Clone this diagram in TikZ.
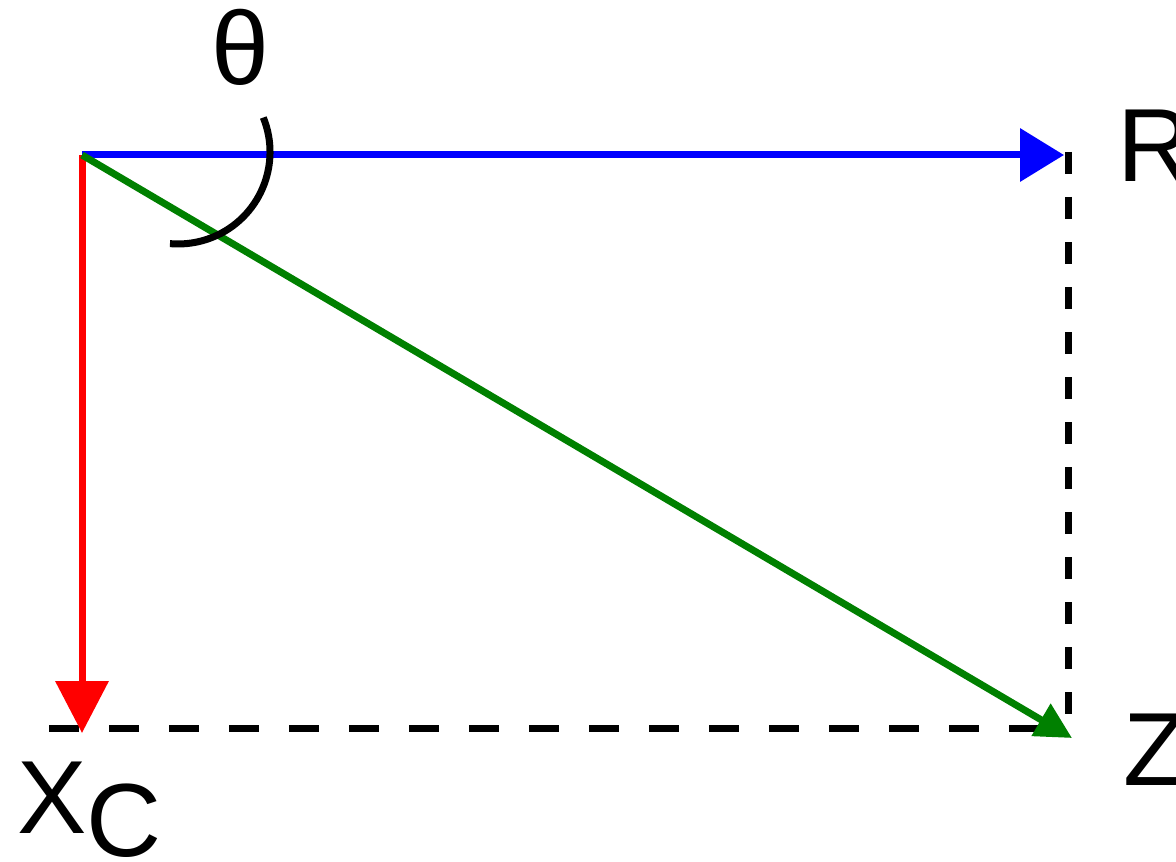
\documentclass[tikz,border=0pt]{standalone}
\usepackage{fontspec}
\setmainfont{Liberation Sans}
\usetikzlibrary{arrows.meta}
\definecolor{axgreen}{RGB}{0,128,0}

\begin{document}
\begin{tikzpicture}[x=0.5pt, y=-0.5pt, every node/.style={font=\fontsize{52}{60}\selectfont, inner sep=0pt}, axis/.style={line width=3.5pt}, guide/.style={line width=3.5pt, dash pattern=on 15pt off 15pt}]
\useasboundingbox (0,0) rectangle (1176,861);
\coordinate (o) at (82,155); \coordinate (rtip) at (1064,155); \coordinate (xtip) at (82,733); \coordinate (ztip) at (1072,738);
\coordinate (ctop) at (1068,152); \coordinate (cbot) at (1068,728); \coordinate (cleft) at (49,728);
\node[anchor=base west] (r) at (1117,182) {R};
\node[anchor=base west] (z) at (1123,785) {Z};
\node[anchor=base west] (xc) at (17,856) {\raisebox{11.5pt}{X}C};
\node (theta) at (240,47) {θ};
% guides
\draw[guide, dash pattern=on 11pt off 11.5pt] (ctop) -- (cbot); \draw[guide] (cleft) -- (cbot);
% axes
\draw[axis, red, -{Triangle[length=26pt,width=26pt]}] (o) -- (xtip);
\draw[axis, blue, -{Triangle[length=22pt,width=26pt]}] (o) -- (rtip);
\draw[axis, axgreen, -{Triangle[length=18pt,width=18pt]}] (o) -- (ztip);
\draw[line width=3.5pt] (178,152) ++(-22:92) arc[start angle=-22, end angle=95, radius=92];
\end{tikzpicture}
\end{document}
